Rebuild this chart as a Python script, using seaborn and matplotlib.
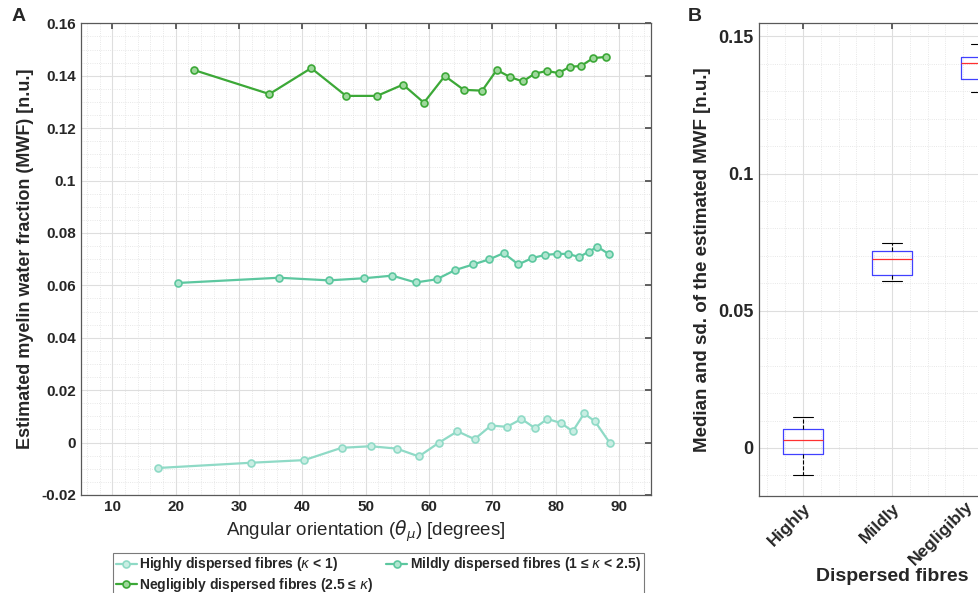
import matplotlib
matplotlib.use("Agg")
import matplotlib.pyplot as plt
import matplotlib.ticker as mticker
import matplotlib.transforms as mtrans
import numpy as np
import pandas as pd
import seaborn as sns

# angular orientation (degrees) and median MWF per dispersion group
theta_highly = [17.2, 31.9, 40.3, 46.2, 50.8, 54.9, 58.4, 61.6, 64.5, 67.2,
                69.8, 72.3, 74.6, 76.7, 78.7, 80.8, 82.7, 84.5, 86.2, 88.6]
mwf_highly = [-0.0097, -0.0077, -0.0067, -0.0020, -0.0014, -0.0023, -0.0053, 0.0000, 0.0043, 0.0013,
              0.0065, 0.0060, 0.0090, 0.0056, 0.0090, 0.0075, 0.0043, 0.0111, 0.0081, -0.0003]

theta_mildly = [20.3, 36.3, 44.2, 49.7, 54.2, 57.9, 61.2, 64.1, 67.0, 69.5,
                71.8, 74.1, 76.3, 78.3, 80.2, 82.0, 83.7, 85.2, 86.6, 88.5]
mwf_mildly = [0.0609, 0.0629, 0.0619, 0.0627, 0.0637, 0.0611, 0.0623, 0.0658, 0.0680, 0.0699,
              0.0723, 0.0680, 0.0704, 0.0716, 0.0720, 0.0720, 0.0708, 0.0728, 0.0747, 0.0718]

theta_neglig = [22.85, 34.8, 41.4, 46.9, 51.8, 55.9, 59.2, 62.5, 65.5, 68.4,
                70.7, 72.8, 74.8, 76.7, 78.6, 80.5, 82.2, 84.0, 85.9, 88.0]
mwf_neglig = [0.1422, 0.1330, 0.1429, 0.1323, 0.1323, 0.1366, 0.1297, 0.1399, 0.1346, 0.1343,
              0.1422, 0.1395, 0.1378, 0.1408, 0.1418, 0.1410, 0.1434, 0.1437, 0.1467, 0.1472]

groups = ["Highly", "Mildly", "Negligibly"]
legend_labels = [r"Highly dispersed fibres ($\kappa$ < 1)",
                 r"Mildly dispersed fibres (1 ≤ $\kappa$ < 2.5)",
                 r"Negligibly dispersed fibres (2.5 ≤ $\kappa$)"]
colors = ["#8fdac6", "#5cc79f", "#3ca837"]
face_colors = ["#c9eee3", "#b0e6d0", "#9fd89c"]


def style_grid(ax, xminor, yminor, size):
    ax.xaxis.set_minor_locator(mticker.MultipleLocator(xminor))
    ax.yaxis.set_minor_locator(mticker.MultipleLocator(yminor))
    ax.grid(which="major", color="0.87", lw=0.8, ls="-")
    ax.grid(which="minor", color="0.88", lw=0.6, ls=":")
    ax.set_axisbelow(True)
    ax.tick_params(which="both", direction="in", top=True, right=True,
                   labelsize=size, color="0.3", length=4)
    ax.tick_params(which="minor", length=0)
    for s in ax.spines.values():
        s.set_color("0.35")
        s.set_linewidth(0.9)
    for lab in ax.get_xticklabels() + ax.get_yticklabels():
        lab.set_fontweight("bold")


def plot_lines(ax):
    series = [(theta_highly, mwf_highly), (theta_mildly, mwf_mildly), (theta_neglig, mwf_neglig)]
    for (x, y), lab, c, fc in zip(series, legend_labels, colors, face_colors):
        sns.lineplot(ax=ax, x=x, y=y, color=c, lw=1.6, marker="o", markersize=5,
                     markerfacecolor=fc, markeredgecolor=c, markeredgewidth=1.2, label=lab)
    ax.set_xlim(5, 95)
    ax.set_ylim(-0.02, 0.16)
    ax.xaxis.set_major_locator(mticker.MultipleLocator(10))
    ax.yaxis.set_major_locator(mticker.MultipleLocator(0.02))
    ax.yaxis.set_major_formatter(mticker.FuncFormatter(lambda v, p: "%g" % round(v, 4)))
    style_grid(ax, 2, 0.005, 11)
    ax.set_xlabel(r"Angular orientation ($\theta_{\mu}$) [degrees]", fontsize=13.5, labelpad=3)
    ax.set_ylabel("Estimated myelin water fraction (MWF) [n.u.]", fontsize=13,
                  fontweight="bold", labelpad=5)
    handles, labels = ax.get_legend_handles_labels()
    ax.get_legend().remove()
    return handles, labels


def plot_box(ax, fig):
    df = pd.DataFrame({
        "group": np.repeat(groups, [len(mwf_highly), len(mwf_mildly), len(mwf_neglig)]),
        "value": mwf_highly + mwf_mildly + mwf_neglig,
    })
    sns.boxplot(ax=ax, data=df, x="group", y="value", order=groups, width=0.45,
                fill=False, color="#4040ff", saturation=1, linewidth=0.9, showfliers=False,
                medianprops=dict(color="#ff3030", lw=0.9),
                whiskerprops=dict(color="black", ls="--", lw=0.8),
                capprops=dict(color="black", lw=0.8))
    ax.set_xlim(-0.5, 2.5)
    ax.set_ylim(-0.0175, 0.155)
    ax.yaxis.set_major_locator(mticker.FixedLocator([0, 0.05, 0.1, 0.15]))
    ax.yaxis.set_major_formatter(mticker.FuncFormatter(lambda v, p: "%g" % round(v, 4)))
    style_grid(ax, 0.2, 0.01, 13)
    ax.tick_params(axis="x", labelsize=12.5)
    plt.setp(ax.get_xticklabels(), rotation=45, ha="right", rotation_mode="anchor")
    # last label would run off the figure edge otherwise
    last = ax.get_xticklabels()[-1]
    last.set_transform(last.get_transform() +
                       mtrans.ScaledTranslation(-11 / 72, 2 / 72, fig.dpi_scale_trans))
    ax.set_xlabel("Dispersed fibres", fontsize=14, fontweight="bold", labelpad=0)
    ax.set_ylabel("Median and sd. of the estimated MWF [n.u.]", fontsize=13.5,
                  fontweight="bold", labelpad=5)


if __name__ == "__main__":
    sns.set_theme(style="white")
    plt.rcParams["font.family"] = ["Liberation Sans", "DejaVu Sans"]
    plt.rcParams["mathtext.fontset"] = "dejavusans"

    fig = plt.figure(figsize=(9.79, 5.93), dpi=100)
    ax_a = fig.add_axes([0.0824, 0.1653, 0.5822, 0.7954])
    ax_b = fig.add_axes([0.7748, 0.1636, 0.2727, 0.7983])

    handles, labels = plot_lines(ax_a)
    plot_box(ax_b, fig)

    # column-major fill: Highly / Negligibly in col 1, Mildly in col 2
    order = [0, 2, 1]
    leg = fig.legend([handles[i] for i in order], [labels[i] for i in order],
                     loc="upper left", bbox_to_anchor=(0.1154, 0.068),
                     ncol=2, frameon=True, fancybox=False, edgecolor="0.35",
                     prop=dict(weight="bold", size=10), handlelength=1.5, handletextpad=0.2,
                     columnspacing=0.9, labelspacing=0.15, borderpad=0.2, borderaxespad=0)
    leg.get_frame().set_linewidth(0.8)

    fig.text(0.012, 0.965, "A", fontsize=14, fontweight="bold")
    fig.text(0.702, 0.965, "B", fontsize=14, fontweight="bold")

    fig.savefig("out.png", dpi=100)
    plt.close("all")
